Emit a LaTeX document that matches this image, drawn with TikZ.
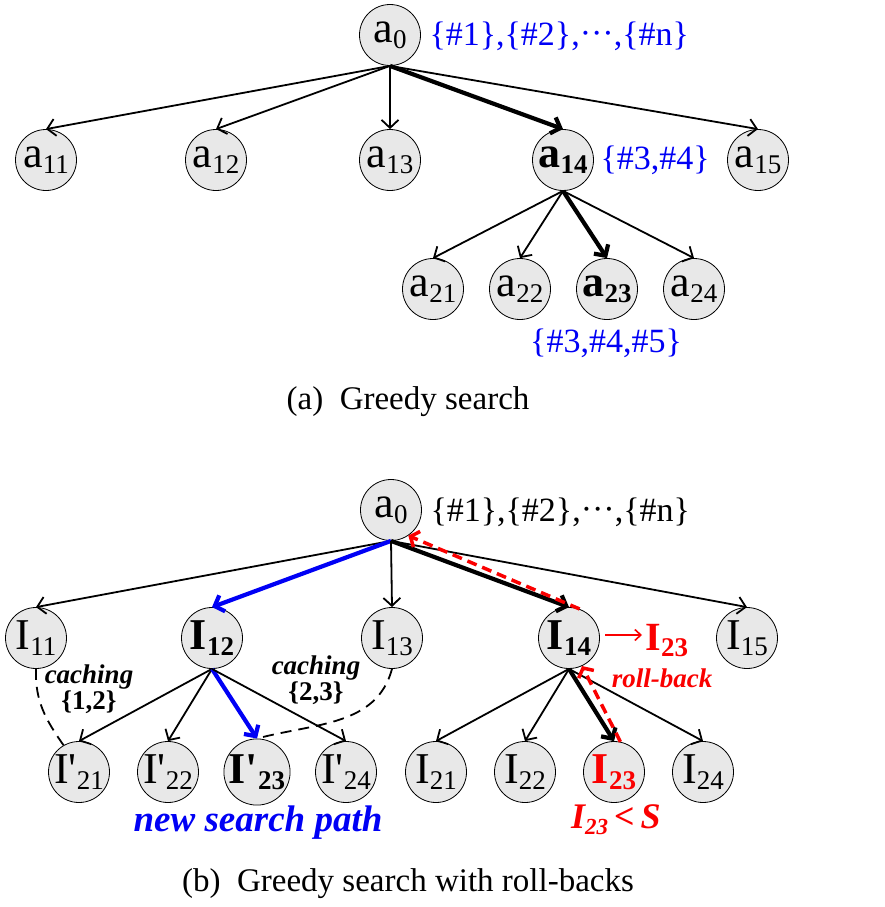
\documentclass[tikz,border=0pt]{standalone}
\usepackage{fontspec}
\setmainfont{Liberation Serif}
\usetikzlibrary{arrows.meta}
\definecolor{nodefill}{gray}{0.91}
\definecolor{pblue}{RGB}{0,0,245}
\definecolor{pred}{RGB}{250,0,0}
\newcommand\nlab[2]{#1\raisebox{-6pt}{\fontsize{27}{27}\selectfont #2}}
\newcommand\cdt{\raisebox{1pt}{\textperiodcentered\textperiodcentered\textperiodcentered}}
\begin{document}
\begin{tikzpicture}[x=1pt,y=1pt,
  nd/.style={circle, draw=black, line width=0.8pt, fill=nodefill, minimum size=61pt, inner sep=0pt, font=\fontsize{44}{44}\selectfont},
  arr/.style={line width=1.8pt, -{Straight Barb[length=8pt,width=17pt]}},
  thk/.style={line width=4.2pt, -{Straight Barb[length=8pt,width=17pt]}},
  bthk/.style={thk, draw=pblue},
  rdash/.style={draw=pred, line width=3.5pt, dash pattern=on 10pt off 6pt, -{Straight Barb[length=7pt,width=17pt]}},
  cache/.style={draw=black, line width=1.8pt, dash pattern=on 11pt off 7pt},
  lbl/.style={font=\fontsize{34}{34}\selectfont},
  captxt/.style={font=\fontsize{33}{33}\selectfont},
  bi/.style={font=\fontsize{27}{27}\selectfont\bfseries\itshape},
  cachetxt/.style={align=center, inner sep=0pt, font=\fontsize{27}{22}\selectfont\bfseries}
]
\useasboundingbox (0,0) rectangle (885,-907);

% ---------- (a) ----------
\node[nd] (a0) at (390,-35) {\nlab{a}{0}};
\node[nd] (a11) at (46,-160) {\nlab{a}{11}};
\node[nd] (a12) at (216,-160) {\nlab{a}{12}};
\node[nd] (a13) at (390,-160) {\nlab{a}{13}};
\node[nd, font=\fontsize{44}{44}\selectfont\bfseries] (a14) at (563,-160) {\nlab{a}{14}};
\node[nd] (a15) at (758,-160) {\nlab{a}{15}};
\node[nd] (a21) at (433,-289) {\nlab{a}{21}};
\node[nd] (a22) at (520,-289) {\nlab{a}{22}};
\node[nd, font=\fontsize{44}{44}\selectfont\bfseries] (a23) at (607,-289) {\nlab{a}{23}};
\node[nd] (a24) at (694,-289) {\nlab{a}{24}};

\node[lbl, pblue, anchor=west] (la0) at (426,-36) {\{\#1\},\{\#2\},\cdt,\{\#n\}};
\node[lbl, pblue, anchor=west] (la14) at (597,-160) {\{\#3,\#4\}};
\node[lbl, pblue] (la23) at (606,-343) {\{\#3,\#4,\#5\}};
\node[captxt] (capa) at (408,-402) {(a)\ \ Greedy search};

\draw[arr] (a0.south) -- (a11.north);
\draw[arr] (a0.south) -- (a12.north);
\draw[arr] (a0.south) -- (a13.north);
\draw[thk] (a0.south) -- (a14.north);
\draw[arr] (a0.south) -- (a15.north);
\draw[arr] (a14.south) -- (a21.north);
\draw[arr] (a14.south) -- (a22.north);
\draw[thk] (a14.south) -- (a23.north);
\draw[arr] (a14.south) -- (a24.north);

% ---------- (b) ----------
\node[nd] (b0) at (391,-510) {\nlab{a}{0}};
\node[nd] (I11) at (36,-638) {\nlab{I}{11}};
\node[nd, font=\fontsize{44}{44}\selectfont\bfseries] (I12) at (212,-638) {\nlab{I}{12}};
\node[nd] (I13) at (392,-638) {\nlab{I}{13}};
\node[nd, font=\fontsize{44}{44}\selectfont\bfseries] (I14) at (569,-638) {\nlab{I}{14}};
\node[nd] (I15) at (747,-638) {\nlab{I}{15}};
\node[nd] (P21) at (79,-772) {\nlab{I\textquotesingle}{21}};
\node[nd] (P22) at (168,-772) {\nlab{I\textquotesingle}{22}};
\node[nd, font=\fontsize{44}{44}\selectfont\bfseries] (P23) at (257,-772) {\nlab{I\textquotesingle}{23}};
\node[nd] (P24) at (346,-772) {\nlab{I\textquotesingle}{24}};
\node[nd] (I21) at (436,-772) {\nlab{I}{21}};
\node[nd] (I22) at (525,-772) {\nlab{I}{22}};
\node[nd, text=pred, font=\fontsize{44}{44}\selectfont\bfseries] (I23) at (614,-772) {\nlab{I}{23}};
\node[nd] (I24) at (703,-772) {\nlab{I}{24}};

\node[lbl, anchor=west] (lb0) at (427,-512) {\{\#1\},\{\#2\},\cdt,\{\#n\}};
\node[captxt] (capb) at (408,-884) {(b)\ \ Greedy search with roll-backs};

\draw[arr] (b0.south) -- (I11.north);
\draw[bthk] (b0.south) -- (I12.north);
\draw[arr] (b0.south) -- (I13.north);
\draw[thk] (b0.south) -- (I14.north);
\draw[arr] (b0.south) -- (I15.north);
\draw[arr] (I12.south) -- (P21.north);
\draw[arr] (I12.south) -- (P22.north);
\draw[bthk] (I12.south) -- (P23.north);
\draw[arr] (I12.south) -- (P24.north);
\draw[arr] (I14.south) -- (I21.north);
\draw[arr] (I14.south) -- (I22.north);
\draw[thk] (I14.south) -- (I23.north);
\draw[arr] (I14.south) -- (I24.north);

% caching curves
\draw[cache] (I11.south) to[out=-92, in=125] (P21.120);
\draw[cache] (I13.south) to[out=-105, in=15] (P23.north);
\node[cachetxt] (c1) at (89,-689) {\itshape caching\\\{1,2\}};
\node[cachetxt] (c2) at (316,-680) {\itshape caching\\\{2,3\}};

% roll-backs
\draw[rdash] (I14.70) -- (b0.-56);
\draw[rdash] (I23.78) -- (I14.-65);
\node[pred, anchor=west, font=\fontsize{40}{40}\selectfont\bfseries] (r23) at (642,-641) {\nlab{I}{23}};
\draw[pred, line width=1.6pt, -{Straight Barb[length=6pt,width=11pt]}] (605,-635) -- (r23.west |- 0,-635);
\node[bi, pred] (rb) at (662,-678) {roll-back};
\node[pred, font=\fontsize{36}{36}\selectfont\bfseries\itshape] (cond) at (616,-820) {I\raisebox{-6pt}{\fontsize{23}{23}\selectfont 23}\,<\,S};
\node[pblue, font=\fontsize{37}{37}\selectfont\bfseries\itshape] (nsp) at (258,-823) {new search path};
\end{tikzpicture}
\end{document}
